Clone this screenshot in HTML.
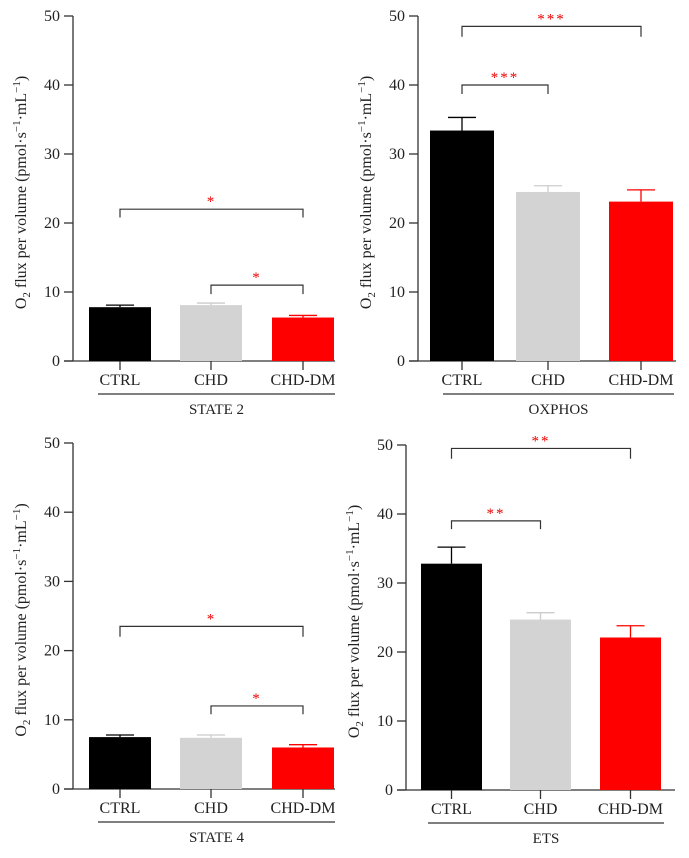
<!DOCTYPE html>
<html><head><meta charset="utf-8"><style>
body{margin:0;background:#fff}
svg text{font-family:"Liberation Serif",serif;fill:#222}
</style></head><body>
<svg id="c" width="689" height="853" xmlns="http://www.w3.org/2000/svg"></svg>
<script>
const categories=["CTRL","CHD","CHD-DM"];
const colors=["#000","#d3d3d3","#ff0000"];
const yTicks=[0,10,20,30,40,50];
const titles=["STATE 2","OXPHOS","STATE 4","ETS"];
const means=[[7.8,8.1,6.3],[33.4,24.5,23.1],[7.5,7.4,6.0],[32.8,24.7,22.1]];
const errs=[[0.3,0.3,0.3],[1.9,0.9,1.7],[0.3,0.4,0.4],[2.4,1.0,1.7]];
// brackets: [fromIdx,toIdx,yValue,legValue,stars]
const brackets=[
 [[0,2,22,20.8,"*"],[1,2,11,9.7,"*"]],
 [[0,2,48.5,47,"***"],[0,1,40,38.7,"***"]],
 [[0,2,23.5,22,"*"],[1,2,12,10.8,"*"]],
 [[0,2,49.5,48,"**"],[0,1,39,37.8,"**"]]
];
const layout=[
 {ax:73,top:16,bot:361,right:335,bars:[89,180,272],bw:62,ul:[98,335]},
 {ax:418,top:16,bot:361,right:676,bars:[430,516,609],bw:64,ul:[443,674]},
 {ax:73,top:443,bot:789,right:335,bars:[89,180,272],bw:62,ul:[98,335]},
 {ax:406,top:445,bot:790,right:675,bars:[421,510,600],bw:61,ul:[428,664]}
];
const svg=document.getElementById('c');
const NS="http://www.w3.org/2000/svg";
function mk(t,a,p){const e=document.createElementNS(NS,t);for(const k in a)e.setAttribute(k,a[k]);(p||svg).appendChild(e);return e;}
layout.forEach((L,pi)=>{
 const g=mk('g',{});
 
 
 const y=v=>L.bot-(v/50)*(L.bot-L.top);
 const cx=i=>L.bars[i]+L.bw/2;
 const ya=mk('line',{x1:L.ax,y1:L.top,x2:L.ax,y2:L.bot,stroke:'#333','stroke-width':1.3},g);
 
 
 const xa=mk('line',{x1:L.ax-9,y1:L.bot,x2:L.right,y2:L.bot,stroke:'#333','stroke-width':1.3},g);
 
 
 yTicks.forEach(t=>{
  mk('line',{x1:L.ax-9,y1:y(t),x2:L.ax,y2:y(t),stroke:'#333','stroke-width':1.3},g);
  const tx=mk('text',{x:L.ax-13,y:y(t)+5,'text-anchor':'end','font-size':16},g);
  tx.textContent=t;
  
  
 });
 categories.forEach((c,i)=>{
  const v=means[pi][i],e=errs[pi][i];
  mk('line',{x1:cx(i),y1:y(v+e),x2:cx(i),y2:y(v),stroke:colors[i]=='#d3d3d3'?'#ccc':colors[i],'stroke-width':1.3},g);
  mk('line',{x1:cx(i)-14,y1:y(v+e),x2:cx(i)+14,y2:y(v+e),stroke:colors[i]=='#d3d3d3'?'#ccc':colors[i],'stroke-width':1.3},g);
  const b=mk('rect',{x:L.bars[i],y:y(v),width:L.bw,height:y(0)-y(v),fill:colors[i]},g);
  
  
  mk('line',{x1:cx(i),y1:L.bot,x2:cx(i),y2:L.bot+9,stroke:'#333','stroke-width':1.3},g);
  const lt=mk('text',{x:cx(i),y:L.bot+24,'text-anchor':'middle','font-size':16},g);
  lt.textContent=c;
  
  
 });
 mk('line',{x1:L.ul[0],y1:L.bot+33,x2:L.ul[1],y2:L.bot+33,stroke:'#333','stroke-width':1.2},g);
 const tt=mk('text',{x:(L.ul[0]+L.ul[1])/2,y:L.bot+53,'text-anchor':'middle','font-size':15},g);
 tt.textContent=titles[pi];
 
 
 brackets[pi].forEach(br=>{
  const x1=cx(br[0]),x2=cx(br[1]);
  const p=mk('path',{d:`M${x1},${y(br[3])}V${y(br[2])}H${x2}V${y(br[3])}`,fill:'none',stroke:'#333','stroke-width':1.2},g);
  
  
  const s=mk('text',{x:(x1+x2)/2,y:y(br[2])-3,'text-anchor':'middle','font-size':15,'letter-spacing':'2'},g);
  s.style.fill='#e00';
  s.textContent=br[4];
  
  
 });
 const ycx=L.ax-47, ycy=(L.top+L.bot)/2+4;
 const yl=mk('text',{x:ycx,y:ycy,'text-anchor':'middle','font-size':16,transform:`rotate(-90 ${ycx} ${ycy})`},g);
 yl.innerHTML='O<tspan font-size="11" dy="4">2</tspan><tspan dy="-4"> flux per volume (pmol·s</tspan><tspan font-size="11" dy="-6">−1</tspan><tspan dy="6">·mL</tspan><tspan font-size="11" dy="-6">−1</tspan><tspan dy="6">)</tspan>';
 
 
});
</script>
</body></html>
